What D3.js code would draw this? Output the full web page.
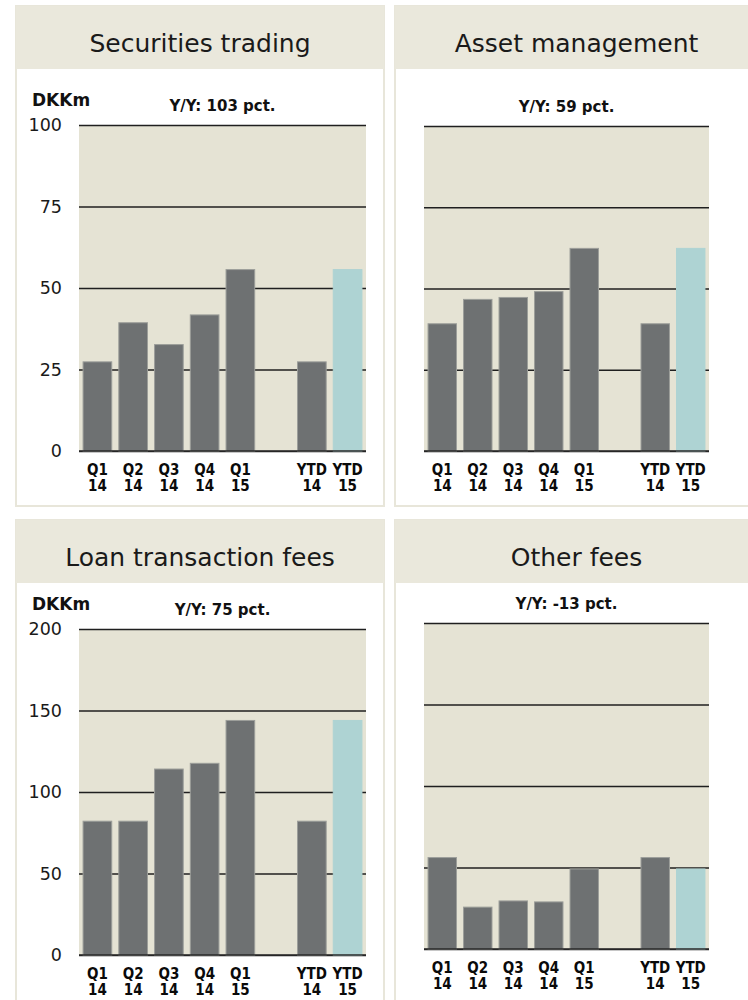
<!DOCTYPE html>
<html>
<head>
<meta charset="utf-8">
<script src="https://cdn.jsdelivr.net/npm/d3@7"></script>
<style>
  html, body { margin: 0; padding: 0; background: #ffffff; }
  svg { display: block; }
  .title { font-family: "DejaVu Sans", Verdana, sans-serif; font-size: 25px; fill: #1a1a1a; }
  .unit { font-family: "DejaVu Sans", Verdana, sans-serif; font-weight: bold; font-size: 17px; fill: #111; }
  .yoy { font-family: "DejaVu Sans", Verdana, sans-serif; font-weight: bold; font-size: 15px; fill: #111; }
  .tick text { font-family: "DejaVu Sans", Verdana, sans-serif; }
  .yaxis .tick text { font-size: 17.5px; fill: #1a1a1a; }
  .xaxis .tick text { font-family: "DejaVu Sans Condensed", "DejaVu Sans", sans-serif; font-size: 15px; font-weight: bold; fill: #0a0a0a; }
</style>
</head>
<body>
<div id="chart"></div>
<script>
// ---- data (DKKm) ----
var categories = ["Q1 14", "Q2 14", "Q3 14", "Q4 14", "Q1 15", "YTD 14", "YTD 15"];
var slots = ["Q1 14", "Q2 14", "Q3 14", "Q4 14", "Q1 15", "gap", "YTD 14", "YTD 15"];

var securitiesValues = [27.5, 39.5, 32.8, 41.9, 55.8, 27.5, 55.8];
var assetValues      = [39.3, 46.8, 47.4, 49.2, 62.5, 39.3, 62.5];
var loanValues       = [82.4, 82.4, 114.4, 117.9, 144.2, 82.4, 144.2];
var otherValues      = [28.2, 13.0, 14.9, 14.6, 24.7, 28.2, 24.7];

var ticks100 = [0, 25, 50, 75, 100];
var ticks200 = [0, 50, 100, 150, 200];

var titles = ["Securities trading", "Asset management", "Loan transaction fees", "Other fees"];
var yoyLabels = ["Y/Y: 103 pct.", "Y/Y: 59 pct.", "Y/Y: 75 pct.", "Y/Y: -13 pct."];

// ---- layout ----
var W = 748, H = 1000;
var C = {
  header: "#eae8dc", frame: "#e8e6da", plotBg: "#e5e3d4",
  bar: "#6e7172", barEdge: "#9c9e9a", ytd: "#aed3d3", grid: "#1f1f1f"
};

var panels = [
  { title: titles[0], yoy: yoyLabels[0], values: securitiesValues, ticks: ticks100, labels: true,
    box: [16, 6, 384, 506], plot: [79, 125, 366, 451] },
  { title: titles[1], yoy: yoyLabels[1], values: assetValues, ticks: ticks100, labels: false,
    box: [395, 6, 758, 506], plot: [424, 126, 709, 451] },
  { title: titles[2], yoy: yoyLabels[2], values: loanValues, ticks: ticks200, labels: true,
    box: [16, 520, 384, 1010], plot: [79, 629, 366, 955] },
  { title: titles[3], yoy: yoyLabels[3], values: otherValues, ticks: ticks100, labels: false,
    box: [395, 520, 758, 1010], plot: [424, 623, 709, 949] }
];

var svg = d3.select("#chart").append("svg").attr("width", W).attr("height", H);

panels.forEach(function (p) {
  var g = svg.append("g");
  var bx0 = p.box[0], by0 = p.box[1], bx1 = p.box[2], by1 = p.box[3];
  var px0 = p.plot[0], py0 = p.plot[1], px1 = p.plot[2], py1 = p.plot[3];

  // frame + header
  g.append("rect").attr("x", bx0).attr("y", by0).attr("width", bx1 - bx0).attr("height", by1 - by0)
    .attr("fill", "#fff").attr("stroke", C.frame).attr("stroke-width", 2);
  g.append("rect").attr("x", bx0).attr("y", by0).attr("width", bx1 - bx0).attr("height", 63)
    .attr("fill", C.header);
  g.append("text").attr("class", "title")
    .attr("x", (bx0 + bx1) / 2).attr("y", by0 + 46).attr("text-anchor", "middle").text(p.title);

  var x = d3.scaleBand().domain(slots).range([px0, px1]).paddingInner(0.17).paddingOuter(0.1);
  var y = d3.scaleLinear().domain([0, p.ticks[p.ticks.length - 1]]).range([py1, py0]);

  g.append("rect").attr("x", px0).attr("y", py0).attr("width", px1 - px0).attr("height", py1 - py0)
    .attr("fill", C.plotBg);

  // gridlines + tick labels
  var yAxis = g.append("g").attr("class", "yaxis").attr("transform", "translate(" + px0 + ",0)")
    .call(d3.axisLeft(y).tickValues(p.ticks).tickSize(-(px1 - px0)).tickPadding(17)
      .tickFormat(p.labels ? d3.format("d") : function () { return ""; }));
  yAxis.select(".domain").remove();
  yAxis.selectAll(".tick line").attr("stroke", C.grid).attr("stroke-width", 1.3);

  if (p.labels) {
    g.append("text").attr("class", "unit").attr("x", bx0 + 16).attr("y", py0 - 19).text("DKKm");
  }
  g.append("text").attr("class", "yoy").attr("x", (px0 + px1) / 2).attr("y", py0 - 14)
    .attr("text-anchor", "middle").text(p.yoy);

  // bars
  g.selectAll("rect.bar").data(p.values).enter().append("rect").attr("class", "bar")
    .attr("x", function (d, i) { return x(categories[i]) + 0.5; })
    .attr("width", x.bandwidth() - 1)
    .attr("y", function (d) { return y(d) + 0.5; })
    .attr("height", function (d) { return y(0) - y(d); })
    .attr("fill", function (d, i) { return categories[i] === "YTD 15" ? C.ytd : C.bar; })
    .attr("stroke", function (d, i) { return categories[i] === "YTD 15" ? C.ytd : C.barEdge; })
    .attr("stroke-width", 1);

  // baseline
  g.append("line").attr("x1", px0).attr("x2", px1).attr("y1", y(0)).attr("y2", y(0))
    .attr("stroke", "#2a2a2a").attr("stroke-width", 1.6);

  // x labels, two lines
  var xAxis = g.append("g").attr("class", "xaxis").attr("transform", "translate(0," + py1 + ")")
    .call(d3.axisBottom(x).tickValues(categories).tickSize(0).tickPadding(0));
  xAxis.select(".domain").remove();
  xAxis.selectAll(".tick text").each(function (d) {
    var parts = d.split(" ");
    var t = d3.select(this).text("").attr("dy", null).attr("y", 0);
    t.append("tspan").attr("x", 0).attr("y", 24).text(parts[0]);
    t.append("tspan").attr("x", 0).attr("y", 40).text(parts[1]);
  });
});
</script>
</body>
</html>
